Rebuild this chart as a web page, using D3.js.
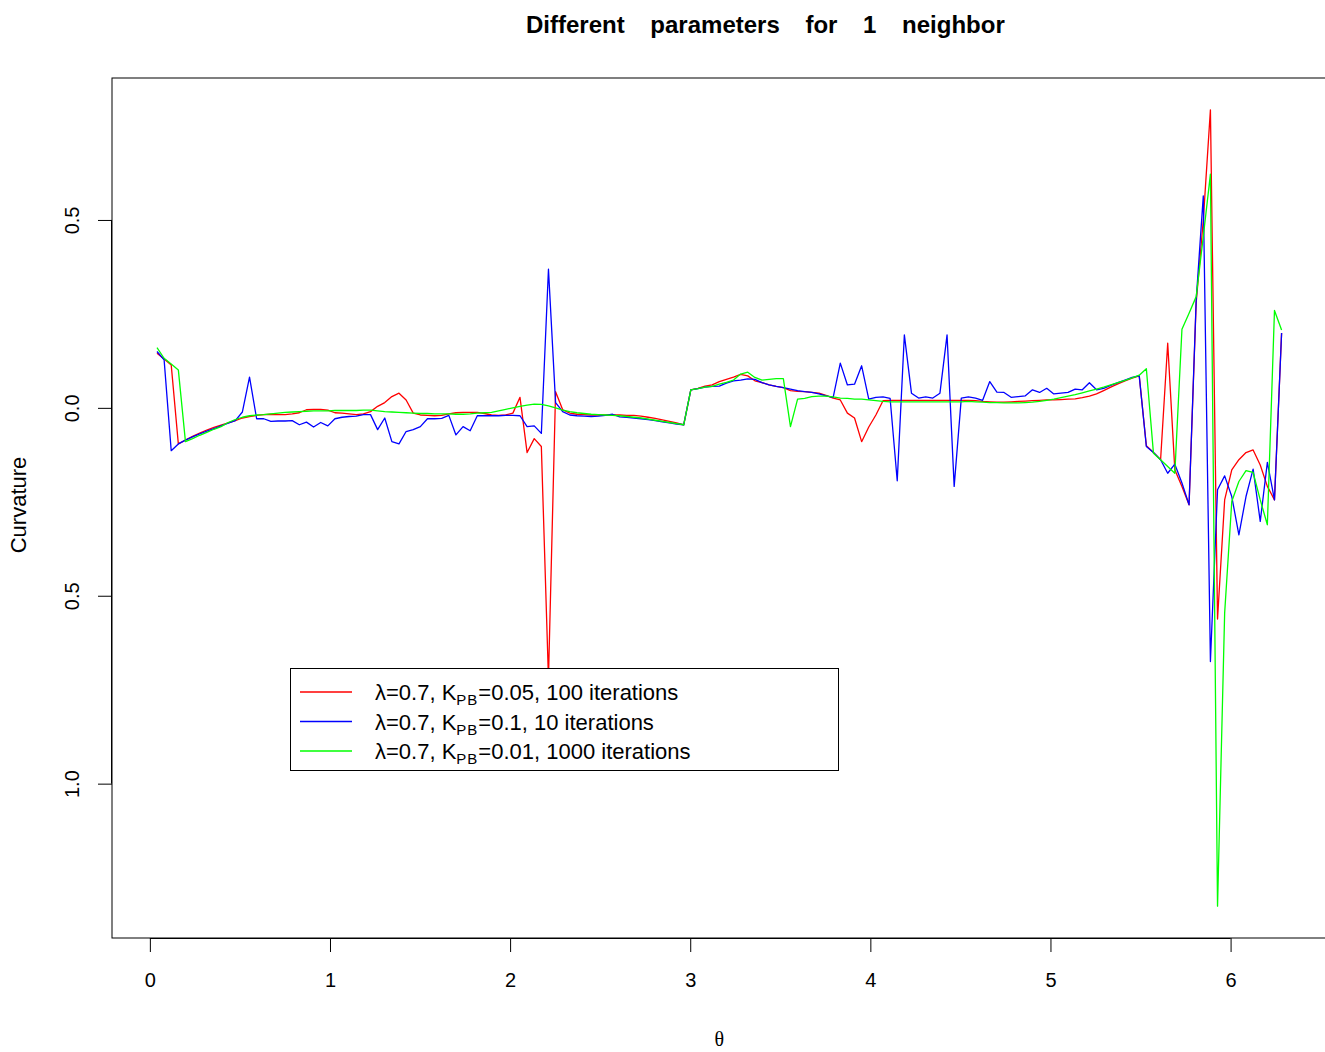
<!DOCTYPE html>
<html>
<head>
<meta charset="utf-8">
<script src="https://cdn.jsdelivr.net/npm/d3@7"></script>
<style>
  body { margin: 0; background: #fff; }
  svg { display: block; }
  text { font-family: "Liberation Sans", Arial, Helvetica, sans-serif; fill: #000; }
</style>
</head>
<body>
<svg id="chart" width="1325" height="1052"></svg>
<script>
// Creating APP object for storing all Methods
APP = {};

/*****
Data
*****/

// theta grid: 159 samples of the full turn
const nPoints = 159;
const theta = d3.range(1, nPoints + 1).map(i => 2 * Math.PI * i / nPoints);

// lambda=0.7, K_PB=0.05, 100 iterations
const curvRed = [
  0.145, 0.130, 0.114, -0.096, -0.086, -0.076, -0.067, -0.059, -0.052, -0.046,
  -0.040, -0.034, -0.027, -0.023, -0.020, -0.018, -0.017, -0.018, -0.018, -0.016,
  -0.013, -0.005, -0.004, -0.004, -0.006, -0.013, -0.014, -0.016, -0.018, -0.016,
  -0.010, 0.004, 0.014, 0.030, 0.039, 0.021, -0.014, -0.019, -0.020, -0.021,
  -0.020, -0.016, -0.013, -0.012, -0.012, -0.012, -0.015, -0.019, -0.020, -0.019,
  -0.014, 0.028, -0.119, -0.082, -0.103, -0.720, 0.043, -0.005, -0.014, -0.017,
  -0.018, -0.019, -0.019, -0.019, -0.019, -0.019, -0.020, -0.020, -0.022, -0.025,
  -0.028, -0.032, -0.036, -0.040, -0.045, 0.048, 0.052, 0.058, 0.061, 0.070,
  0.076, 0.082, 0.089, 0.085, 0.072, 0.067, 0.061, 0.057, 0.054, 0.046,
  0.044, 0.043, 0.041, 0.039, 0.033, 0.026, 0.021, -0.014, -0.027, -0.090,
  -0.051, -0.019, 0.019, 0.020, 0.020, 0.020, 0.020, 0.020, 0.020, 0.020,
  0.020, 0.020, 0.020, 0.020, 0.020, 0.019, 0.017, 0.016, 0.015, 0.015,
  0.016, 0.017, 0.018, 0.019, 0.020, 0.021, 0.021, 0.022, 0.023, 0.024,
  0.027, 0.031, 0.037, 0.046, 0.055, 0.064, 0.072, 0.079, 0.085, -0.101,
  -0.119, -0.138, 0.172, -0.165, -0.209, -0.258, 0.280, 0.500, 0.793, -0.562,
  -0.245, -0.165, -0.138, -0.119, -0.112, -0.152, -0.209, -0.245, 0.199
];

// lambda=0.7, K_PB=0.1, 10 iterations
const curvBlue = [
  0.150, 0.128, -0.114, -0.096, -0.086, -0.077, -0.069, -0.062, -0.055, -0.048,
  -0.041, -0.034, -0.011, 0.082, -0.029, -0.029, -0.036, -0.035, -0.035, -0.034,
  -0.045, -0.038, -0.051, -0.039, -0.048, -0.029, -0.025, -0.023, -0.022, -0.018,
  -0.018, -0.058, -0.027, -0.090, -0.096, -0.063, -0.058, -0.050, -0.029, -0.029,
  -0.028, -0.020, -0.072, -0.050, -0.061, -0.021, -0.021, -0.021, -0.021, -0.020,
  -0.020, -0.021, -0.050, -0.048, -0.068, 0.369, 0.014, -0.010, -0.019, -0.021,
  -0.022, -0.023, -0.022, -0.020, -0.017, -0.024, -0.025, -0.027, -0.029, -0.031,
  -0.034, -0.037, -0.040, -0.043, -0.045, 0.048, 0.051, 0.055, 0.057, 0.058,
  0.066, 0.072, 0.074, 0.077, 0.076, 0.067, 0.061, 0.057, 0.054, 0.050,
  0.046, 0.043, 0.041, 0.037, 0.032, 0.028, 0.119, 0.061, 0.063, 0.112,
  0.023, 0.028, 0.029, 0.025, -0.194, 0.194, 0.039, 0.026, 0.029, 0.026,
  0.039, 0.194, -0.209, 0.026, 0.029, 0.026, 0.020, 0.070, 0.042, 0.041,
  0.028, 0.030, 0.032, 0.048, 0.041, 0.052, 0.037, 0.039, 0.041, 0.050,
  0.048, 0.067, 0.048, 0.052, 0.060, 0.067, 0.074, 0.081, 0.085, -0.103,
  -0.119, -0.138, -0.174, -0.150, -0.200, -0.258, 0.287, 0.564, -0.675, -0.218,
  -0.181, -0.236, -0.338, -0.236, -0.163, -0.302, -0.145, -0.245, 0.199
];

// lambda=0.7, K_PB=0.01, 1000 iterations
const curvGreen = [
  0.160, 0.132, 0.117, 0.101, -0.090, -0.082, -0.073, -0.065, -0.057, -0.050,
  -0.039, -0.031, -0.025, -0.021, -0.019, -0.018, -0.016, -0.014, -0.012, -0.011,
  -0.010, -0.009, -0.008, -0.008, -0.008, -0.007, -0.007, -0.007, -0.007, -0.006,
  -0.006, -0.008, -0.010, -0.011, -0.012, -0.013, -0.014, -0.015, -0.015, -0.016,
  -0.016, -0.016, -0.017, -0.017, -0.016, -0.014, -0.013, -0.012, -0.008, -0.004,
  0.000, 0.004, 0.007, 0.010, 0.009, 0.005, 0.000, -0.006, -0.010, -0.013,
  -0.015, -0.017, -0.018, -0.019, -0.020, -0.021, -0.023, -0.025, -0.027, -0.030,
  -0.033, -0.036, -0.039, -0.042, -0.045, 0.048, 0.051, 0.055, 0.057, 0.063,
  0.068, 0.074, 0.090, 0.095, 0.081, 0.074, 0.076, 0.078, 0.078, -0.050,
  0.023, 0.025, 0.030, 0.031, 0.031, 0.029, 0.026, 0.025, 0.023, 0.023,
  0.021, 0.019, 0.017, 0.016, 0.016, 0.016, 0.016, 0.016, 0.016, 0.016,
  0.016, 0.016, 0.016, 0.016, 0.017, 0.016, 0.015, 0.014, 0.014, 0.013,
  0.013, 0.013, 0.014, 0.015, 0.017, 0.020, 0.023, 0.027, 0.031, 0.035,
  0.040, 0.045, 0.050, 0.055, 0.061, 0.067, 0.073, 0.080, 0.087, 0.104,
  -0.121, -0.138, -0.156, -0.174, 0.209, 0.252, 0.296, 0.456, 0.622, -1.326,
  -0.546, -0.249, -0.196, -0.167, -0.172, -0.245, -0.311, 0.259, 0.207
];

// tick values and legend pieces
const xTicks = [0, 1, 2, 3, 4, 5, 6];
const yTicks = [-1.0, -0.5, 0.0, 0.5];
const legendK = ["0.05", "0.1", "0.01"];
const legendIter = ["100", "10", "1000"];
const seriesColors = ["#ff0000", "#0000ff", "#00ff00"];

/*****
Declaring global variables
*****/
let svg = d3.select("#chart");
let plot = {left: 112, top: 78, bottom: 938};
let x, y;

/*****
Initializing the whole script of the page
*****/
APP.main = function(){
    APP.initScales();
    APP.drawLines();
    APP.drawAxes();
    APP.drawLegend();
};

APP.initScales = function(){
    // R style: data range widened by 4% on each side
    let xe = d3.extent(theta);
    let dx = (xe[1] - xe[0]) * 0.04;
    x = d3.scaleLinear().domain([xe[0] - dx, xe[1] + dx]);
    // keep 180.12 px per radian, so the right edge falls just off the page
    x.range([plot.left, plot.left + (x.domain()[1] - x.domain()[0]) * 180.12]);

    let ye = d3.extent(curvRed.concat(curvBlue, curvGreen));
    let dy = (ye[1] - ye[0]) * 0.04;
    y = d3.scaleLinear().domain([ye[0] - dy, ye[1] + dy]).range([plot.bottom, plot.top]);
};

APP.drawLines = function(){
    let line = d3.line().x((d, i) => x(theta[i])).y(d => y(d));
    [curvRed, curvBlue, curvGreen].forEach((s, k) => {
        svg.append("path")
            .datum(s)
            .attr("d", line)
            .attr("fill", "none")
            .attr("stroke", seriesColors[k])
            .attr("stroke-width", 1.3)
            .attr("stroke-linejoin", "round");
    });
};

APP.drawAxes = function(){
    let r = x.range();
    // plot frame
    svg.append("rect")
        .attr("x", r[0]).attr("y", plot.top)
        .attr("width", r[1] - r[0]).attr("height", plot.bottom - plot.top)
        .attr("fill", "none").attr("stroke", "#000").attr("stroke-width", 1);

    let gx = svg.append("g")
        .attr("transform", "translate(0," + plot.bottom + ")")
        .call(d3.axisBottom(x).tickValues(xTicks).tickFormat(d3.format("d")).tickSize(14).tickPadding(21));
    gx.select(".domain").attr("d", "M" + x(0) + ",0.5H" + x(6));
    gx.selectAll("text").attr("font-size", 20).attr("font-family", null);

    // the minus signs are lost in the original, labels keep only the magnitude
    let gy = svg.append("g")
        .attr("transform", "translate(" + plot.left + ",0)")
        .call(d3.axisLeft(y).tickValues(yTicks).tickFormat(d => Math.abs(d).toFixed(1)).tickSize(14).tickPadding(0));
    gy.select(".domain").attr("d", "M-0.5," + y(-1) + "V" + y(0.5));
    gy.selectAll(".tick text")
        .attr("font-size", 20).attr("font-family", null)
        .attr("x", null).attr("dy", null)
        .attr("text-anchor", "middle")
        .attr("transform", "translate(-33,0) rotate(-90)");

    // titles
    svg.append("text")
        .attr("x", 526).attr("y", 33)
        .attr("font-size", 24).attr("font-weight", "bold")
        .attr("word-spacing", 19)
        .text("Different parameters for 1 neighbor");

    svg.append("text")
        .attr("transform", "translate(26,505) rotate(-90)")
        .attr("text-anchor", "middle")
        .attr("font-size", 22)
        .text("Curvature");

    svg.append("text")
        .attr("x", (r[0] + r[1]) / 2).attr("y", 1046)
        .attr("text-anchor", "middle")
        .attr("font-size", 20)
        .style("font-family", "'Liberation Serif', 'DejaVu Serif', serif")
        .text("θ");
};

APP.drawLegend = function(){
    let lg = svg.append("g");
    lg.append("rect")
        .attr("x", 290.5).attr("y", 668.5).attr("width", 548).attr("height", 102)
        .attr("fill", "#fff").attr("stroke", "#000").attr("stroke-width", 1);

    legendK.forEach((k, i) => {
        let yy = 692 + i * 29.5;
        lg.append("line")
            .attr("x1", 300).attr("x2", 352).attr("y1", yy).attr("y2", yy)
            .attr("stroke", seriesColors[i]).attr("stroke-width", 1.3);
        let t = lg.append("text").attr("x", 375).attr("y", yy + 8).attr("font-size", 22);
        t.append("tspan").text("λ=0.7, K");
        t.append("tspan").attr("font-size", 15).attr("dy", 5).attr("letter-spacing", 1).text("PB");
        t.append("tspan").attr("dy", -5).text("=" + k + ", " + legendIter[i] + " iterations");
    });
};

APP.main();
</script>
</body>
</html>
